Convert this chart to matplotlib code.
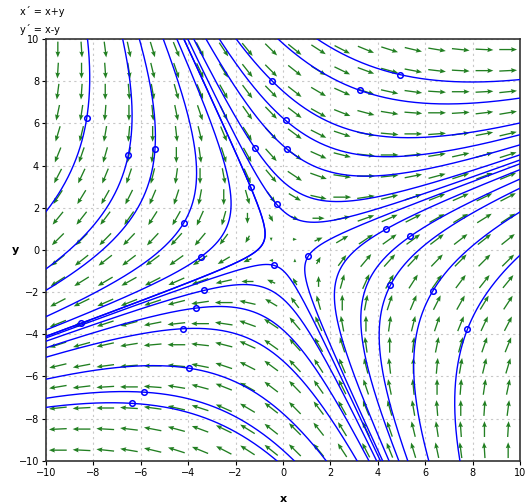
import numpy as np
import matplotlib.pyplot as plt

# system: x' = x + y, y' = x - y
# starting points of the trajectories
start_x = [-0.45, 3.23, 0.11, -1.19, 0.18, -1.36, -0.27, 4.94, 4.36, 5.37,
           4.53, 6.32, 7.78, -3.45, -3.32, -3.66, -4.23, -3.98, -5.86, -6.37,
           -8.54, -8.28, -6.53, -5.40, -4.19, -0.37, 1.07]
start_y = [8.00, 7.57, 6.14, 4.84, 4.77, 2.96, 2.16, 8.31, 0.99, 0.64,
           -1.68, -1.95, -3.77, -0.32, -1.92, -2.76, -3.74, -5.61, -6.75, -7.28,
           -3.49, 6.25, 4.48, 4.80, 1.27, -0.74, -0.29]

grid_vals = np.arange(-9.5, 10, 1.0)
xticks = np.arange(-10, 11, 2)


def trajectory(x0, y0):
    # exact solution: exp(At) = cosh(r t) I + sinh(r t)/r A, with r = sqrt(2)
    r = np.sqrt(2)
    t = np.linspace(-4, 4, 4001)
    c = np.cosh(r * t)
    s = np.sinh(r * t) / r
    xs = c * x0 + s * (x0 + y0)
    ys = c * y0 + s * (x0 - y0)
    out = (np.abs(xs) > 11) | (np.abs(ys) > 11)
    xs[out] = np.nan
    ys[out] = np.nan
    return xs, ys


fig = plt.figure(figsize=(5.25, 5.04), dpi=100)
ax = fig.add_axes([0.0876, 0.0859, 0.9029, 0.8367])

# direction field
X, Y = np.meshgrid(grid_vals, grid_vals)
U = X + Y
V = X - Y
mag = np.hypot(U, V)
length = np.minimum(mag * 0.17, 0.75)
U = U / mag * length
V = V / mag * length
ax.quiver(X, Y, U, V, angles='xy', scale_units='xy', scale=1, pivot='mid',
          color='#217f21', width=0.0028, headwidth=3.6, headlength=4.5,
          headaxislength=4.0, zorder=2)

# trajectories
for x0, y0 in zip(start_x, start_y):
    xs, ys = trajectory(x0, y0)
    ax.plot(xs, ys, color='#0000ff', lw=1.0, zorder=3)
ax.plot(start_x, start_y, 'o', mfc='none', mec='#0000ff', ms=4, mew=1.1, zorder=4)

ax.set_xlim(-10, 10)
ax.set_ylim(-10, 10)
ax.set_xticks(xticks)
ax.set_yticks(xticks)
ax.tick_params(labelsize=7, length=3, direction='out', pad=2)
ax.grid(True, color='#c8c8c8', linestyle=(0, (2, 3)), lw=0.8)
ax.set_axisbelow(True)
for sp in ax.spines.values():
    sp.set_color('#333333')
    sp.set_linewidth(1.2)

ax.set_xlabel('x', fontsize=8, fontweight='bold')
ax.set_ylabel('y', fontsize=8, fontweight='bold', rotation=0, va='center')
ax.xaxis.set_label_coords(0.5, -0.079)
ax.yaxis.set_label_coords(-0.065, 0.5)

fig.text(0.038, 0.978, "x´ = x+y", fontsize=7, va='center')
fig.text(0.038, 0.942, "y´ = x-y", fontsize=7, va='center')

fig.savefig('out.png', dpi=100)
